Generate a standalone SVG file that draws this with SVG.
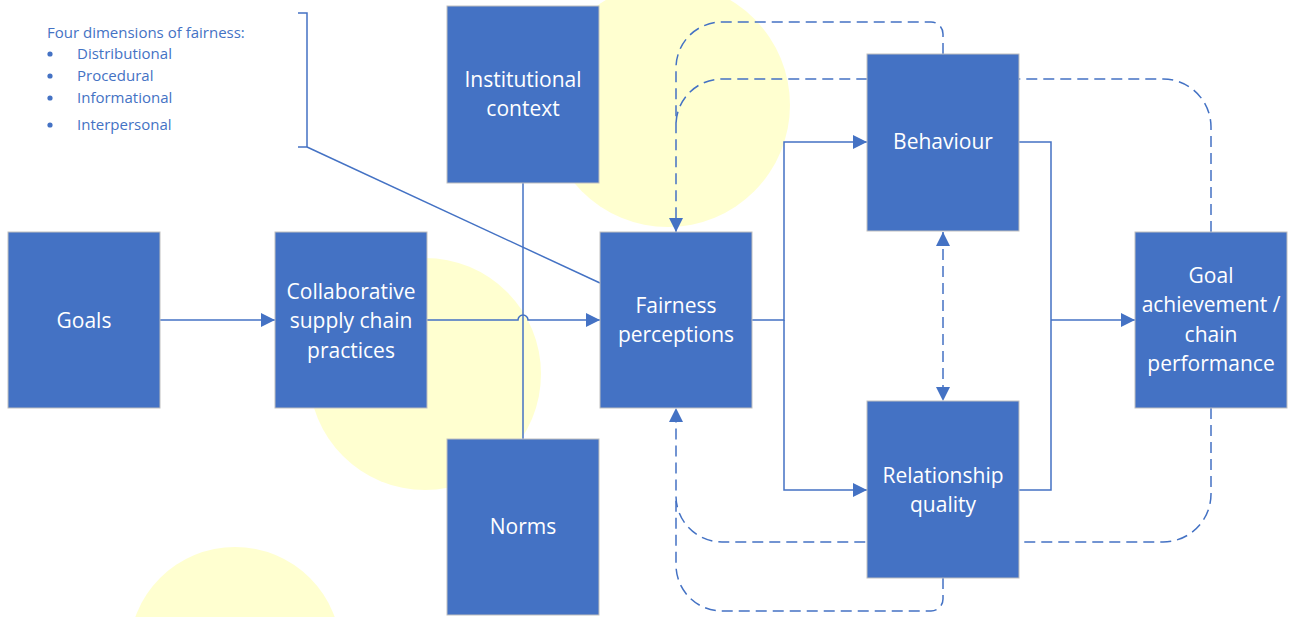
<svg xmlns="http://www.w3.org/2000/svg" width="1290" height="617" viewBox="0 0 1290 617">
<style>
.node rect{fill:#4472C4;stroke:#BFBFBF;stroke-width:1}
.node text{fill:#FFFFFF;font-family:"Open Sans","Noto Sans",sans-serif;font-size:21px;text-anchor:middle}
.ln{fill:none;stroke:#4472C4;stroke-width:1.5}
.dash{stroke-dasharray:11 6}
.legend text{fill:#4472C4;font-family:"Open Sans","Noto Sans",sans-serif;font-size:15px}
.bg{fill:#FFFFD0}
</style>
<defs>
<marker id="arr" markerUnits="userSpaceOnUse" markerWidth="14" markerHeight="14" viewBox="0 0 12 12" refX="12" refY="6" orient="auto-start-reverse">
<path d="M0,0 L12,6 L0,12 Z" fill="#4472C4"/>
</marker>
</defs>
<rect width="1290" height="617" fill="#FFFFFF"/>
<g id="background">
<circle class="bg" cx="668" cy="105" r="122"/>
<circle class="bg" cx="425" cy="374" r="116"/>
<circle class="bg" cx="235" cy="653" r="106"/>
</g>
<g id="legend" class="legend">
<text x="47" y="38">Four dimensions of fairness:</text>
<circle cx="50" cy="54" r="2.6" fill="#4472C4"/>
<circle cx="50" cy="76" r="2.6" fill="#4472C4"/>
<circle cx="50" cy="98" r="2.6" fill="#4472C4"/>
<circle cx="50" cy="125" r="2.6" fill="#4472C4"/>
<text x="77" y="59">Distributional</text>
<text x="77" y="81">Procedural</text>
<text x="77" y="103">Informational</text>
<text x="77" y="130">Interpersonal</text>
</g>
<g id="connectors">
<path class="ln" d="M298,13 H307 V147 H298"/>
<path class="ln" d="M307,147 L600,283"/>
<path class="ln" d="M523,183 V439"/>
<path class="ln" d="M160,320 H275" marker-end="url(#arr)"/>
<path class="ln" d="M427,320 H518 A5,5 0 0 1 528,320 H600" marker-end="url(#arr)"/>
<path class="ln" d="M752,320 H784 V142 H867" marker-end="url(#arr)"/>
<path class="ln" d="M784,320 V490 H867" marker-end="url(#arr)"/>
<path class="ln" d="M1019,142 H1051 V490 H1019"/>
<path class="ln" d="M1051,320 H1135" marker-end="url(#arr)"/>
<path class="ln dash" d="M943,232 V401" marker-start="url(#arr)" marker-end="url(#arr)"/>
<path class="ln dash" d="M943,54 V34 A12,12 0 0 0 931,22 H722 A46,46 0 0 0 676,68 V232" marker-end="url(#arr)"/>
<path class="ln dash" d="M1211,232 V127 A48,48 0 0 0 1163,79 H722 A46,46 0 0 0 676,125"/>
<path class="ln dash" d="M1211,408 V494 A48,48 0 0 1 1163,542 H722 A46,46 0 0 1 676,496 V408" marker-end="url(#arr)"/>
<path class="ln dash" d="M943,578 V599 A12,12 0 0 1 931,611 H722 A46,46 0 0 1 676,565 V500"/>
</g>
<g id="goals" class="node"><rect x="8" y="232" width="152" height="176"/><text x="84" y="328">Goals</text></g>
<g id="collaborative" class="node"><rect x="275" y="232" width="152" height="176"/><text x="351" y="298.5">Collaborative</text><text x="351" y="328">supply chain</text><text x="351" y="357.5">practices</text></g>
<g id="institutional" class="node"><rect x="447" y="6" width="152" height="177"/><text x="523" y="87">Institutional</text><text x="523" y="116">context</text></g>
<g id="norms" class="node"><rect x="447" y="439" width="152" height="176"/><text x="523" y="534">Norms</text></g>
<g id="fairness" class="node"><rect x="600" y="232" width="152" height="176"/><text x="676" y="313">Fairness</text><text x="676" y="342">perceptions</text></g>
<g id="behaviour" class="node"><rect x="867" y="54" width="152" height="177"/><text x="943" y="149">Behaviour</text></g>
<g id="relationship" class="node"><rect x="867" y="401" width="152" height="177"/><text x="943" y="483">Relationship</text><text x="943" y="512">quality</text></g>
<g id="goal-achievement" class="node"><rect x="1135" y="232" width="152" height="176"/><text x="1211" y="283">Goal</text><text x="1211" y="312">achievement /</text><text x="1211" y="342">chain</text><text x="1211" y="371">performance</text></g>
</svg>
